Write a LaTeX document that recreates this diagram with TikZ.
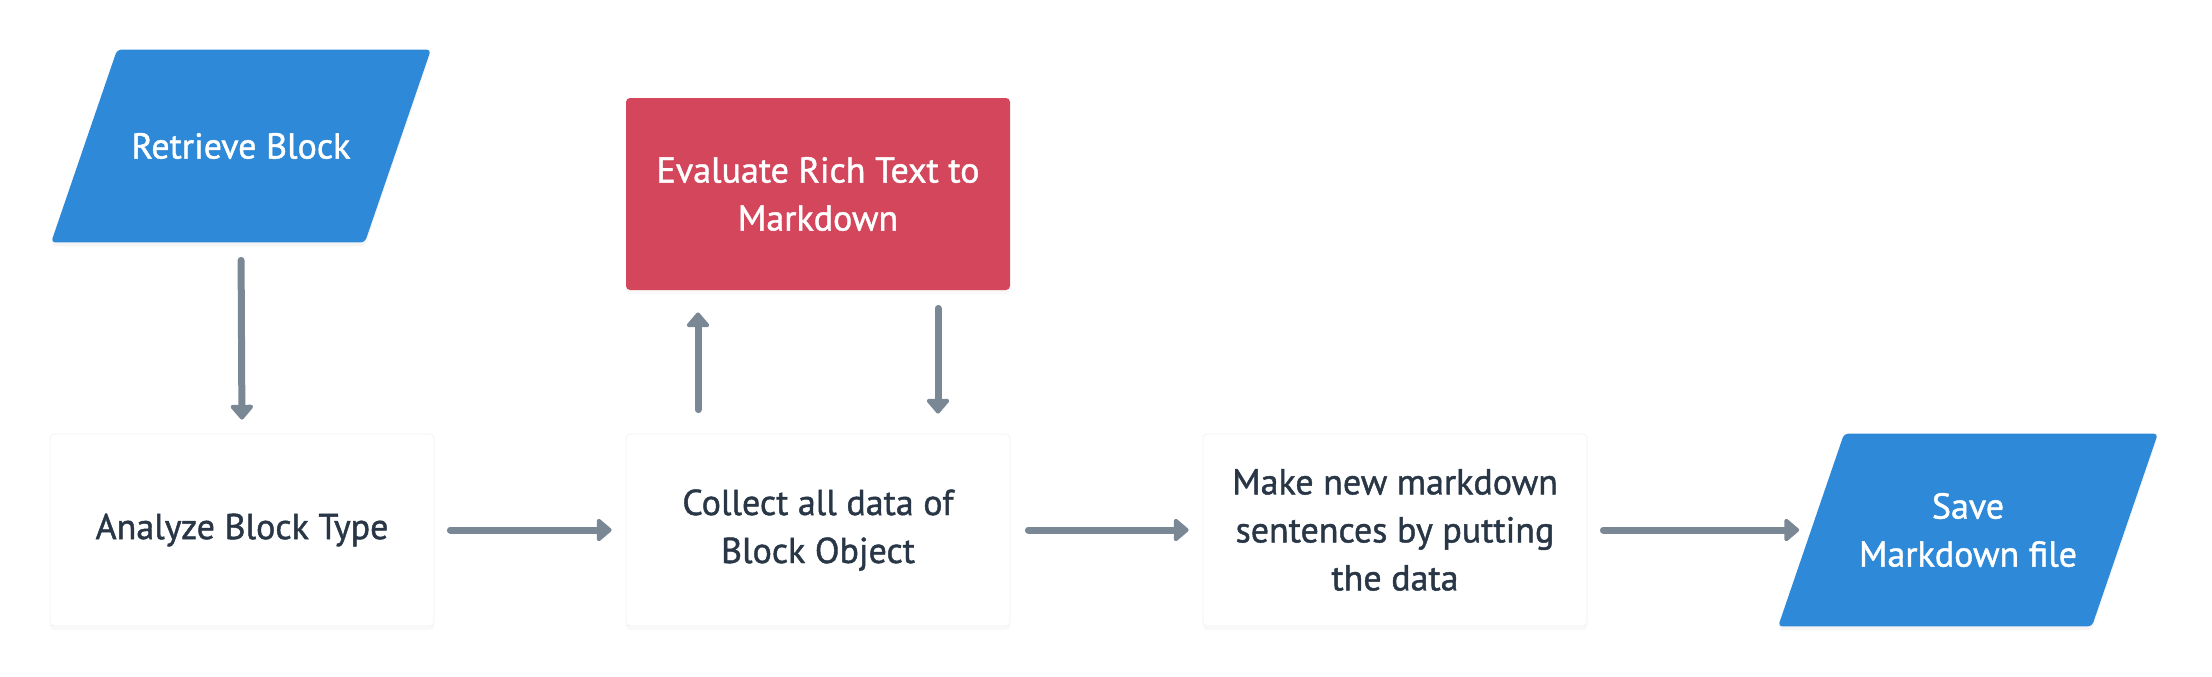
\documentclass[tikz,border=0pt]{standalone}
\usepackage{fontspec}
\setmainfont{PT Sans}
\newfontfamily\flowfam[RawFeature={embolden=1.2}]{PT Sans}
\usepackage{xcolor}
\usetikzlibrary{arrows.meta}
\usetikzlibrary{calc}
\usetikzlibrary{shadows, backgrounds}
\definecolor{flowblue}{RGB}{46,137,216}
\definecolor{flowred}{RGB}{211,70,91}
\definecolor{flowgrey}{RGB}{122,136,150}
\definecolor{flowtext}{RGB}{40,54,70}
\newcommand{\flowfont}{\flowfam\fontsize{18pt}{24pt}\selectfont}
\tikzset{
  procbox/.style={rectangle, rounded corners=2pt, fill=white, draw=black!5,
    minimum width=192pt, minimum height=96pt, inner sep=0pt, align=center,
    text=flowtext, font=\flowfont,
    drop shadow={shadow xshift=0pt, shadow yshift=-2pt, opacity=0.05}},
  redbox/.style={procbox, fill=flowred, draw=none, text=white},
  iobox/.style={rectangle, minimum width=156.5pt, minimum height=96pt,
    inner sep=0pt, align=center, text=white, font=\flowfont},
  iofill/.style={fill=flowblue, rounded corners=2pt,
    drop shadow={shadow xshift=0pt, shadow yshift=-2pt, opacity=0.08}},
  flowarrow/.style={draw=flowgrey, line width=3.5pt, line cap=round,
    -{Triangle[width=13pt, length=8pt, round]}}
}
\begin{document}
\begin{tikzpicture}[x=0.5pt, y=-0.5pt]
        \newcommand{\flowrowy}{530}
        \newcommand{\flowtopy}{194}
        \newcommand{\flowslant}{33}
        \useasboundingbox (0,0) rectangle (2212,676);
        % top row
        \node[iobox] (retrieve) at (241,146) {Retrieve Block};
        \node[redbox] (evaluate) at (818,\flowtopy) {Evaluate Rich Text to\\Markdown};
        % main row
        \node[procbox] (analyze) at (242,\flowrowy) {Analyze Block Type};
        \node[procbox] (collect) at (818,\flowrowy) {Collect all data of\\Block Object};
        \node[procbox] (makesent) at (1395,\flowrowy) {Make new markdown\\sentences by putting\\the data};
        \node[iobox] (save) at (1968,\flowrowy) {Save\\Markdown file};
        % slanted input/output shapes
        \begin{scope}[on background layer]
        \foreach \io in {retrieve, save}
            \path[iofill] ($(\io.north west)+(\flowslant,0)$) -- ($(\io.north east)+(\flowslant,0)$)
                -- ($(\io.south east)-(\flowslant,0)$) -- ($(\io.south west)-(\flowslant,0)$) -- cycle;
        \end{scope}
        % connectors
        \draw[flowarrow, shorten <=9pt, shorten >=7pt] (retrieve.south) -- (analyze.north);
        \draw[flowarrow, shorten <=8pt, shorten >=7pt] (analyze) -- (collect);
        \draw[flowarrow, shorten <=9pt, shorten >=7pt] (collect) -- (makesent);
        \draw[flowarrow, shorten <=8pt, shorten >=6pt] (makesent) -- (save);
        \draw[flowarrow, shorten <=12pt, shorten >=11pt] ([xshift=-60pt]collect.north) -- ([xshift=-60pt]evaluate.south);
        \draw[flowarrow, shorten <=9pt, shorten >=10pt] ([xshift=60pt]evaluate.south) -- ([xshift=60pt]collect.north);
\end{tikzpicture}
\end{document}
